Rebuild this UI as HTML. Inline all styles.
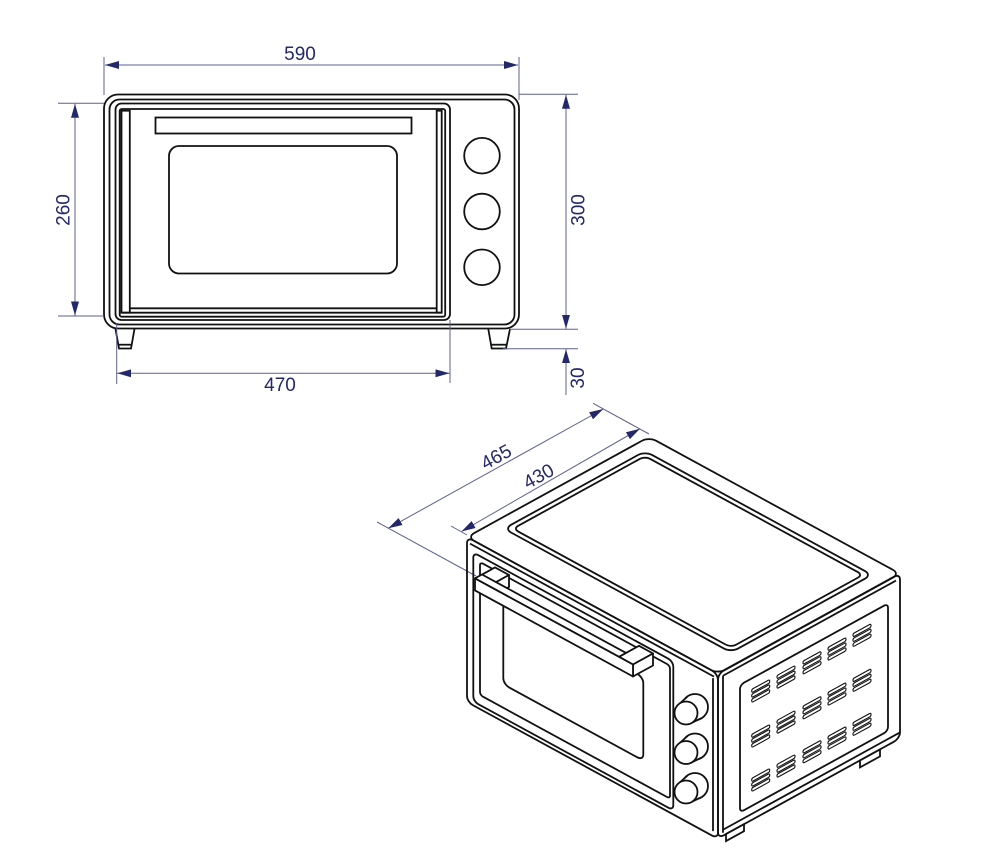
<!DOCTYPE html>
<html><head><meta charset="utf-8"><style>
html,body{margin:0;padding:0;background:#fff;}
svg{display:block;}
text{font-family:"Liberation Sans",Arial,sans-serif;font-size:19px;fill:#23286b;}
.t *{vector-effect:non-scaling-stroke;}
</style></head><body>
<svg width="991" height="861" viewBox="0 0 991 861" xmlns="http://www.w3.org/2000/svg">
<defs>
<marker id="ar" viewBox="0 0 14 8" refX="14" refY="4" markerWidth="14" markerHeight="8" markerUnits="userSpaceOnUse" orient="auto-start-reverse">
<path d="M0,0 L14,4 L0,8 z" fill="#23286b"/>
</marker>
<g id="vent">
<rect x="0" y="-6.6" width="18" height="3.4" rx="1.4" vector-effect="non-scaling-stroke"/>
<rect x="0" y="-1.7" width="18" height="3.4" rx="1.4" vector-effect="non-scaling-stroke"/>
<rect x="0" y="3.2" width="18" height="3.4" rx="1.4" vector-effect="non-scaling-stroke"/>
</g>
</defs>

<!-- ================= FRONT VIEW ================= -->
<g fill="none" stroke="#111" stroke-width="1.8">
<rect x="104" y="94.5" width="415" height="234" rx="14"/>
<rect x="109.5" y="99.5" width="405" height="225" rx="10"/>
<rect x="115.5" y="103.5" width="334.5" height="216.5" rx="6"/>
<rect x="119.7" y="109" width="325.5" height="207.7" rx="2"/>
<rect x="121.5" y="110.7" width="8.3" height="202"/>
<rect x="436.7" y="110.7" width="5" height="202"/>
<line x1="129.8" y1="308.3" x2="436.7" y2="308.3"/>
<line x1="121.5" y1="312.7" x2="441.7" y2="312.7"/>
<rect x="155.5" y="117.5" width="256" height="16"/>
<rect x="169" y="146" width="228" height="127.5" rx="10"/>
<circle cx="482" cy="155.7" r="17.8"/>
<circle cx="482" cy="211.5" r="17.8"/>
<circle cx="482" cy="267.3" r="17.8"/>
<path d="M115.5,329 L119,348.5 L131,348.5 L134.5,329"/>
<line x1="118.3" y1="344.7" x2="131.7" y2="344.7"/>
<path d="M488.3,329 L491.7,348.5 L506,348.5 L510,329"/>
<line x1="491" y1="344.7" x2="507" y2="344.7"/>
</g>

<!-- front view dimensions -->
<g stroke="#5c6190" stroke-width="1" fill="none">
<line x1="104" y1="57" x2="104" y2="95"/>
<line x1="519" y1="57" x2="519" y2="100"/>
<line x1="105" y1="65" x2="518" y2="65" marker-start="url(#ar)" marker-end="url(#ar)"/>

<line x1="58" y1="103.3" x2="104" y2="103.3"/>
<line x1="58" y1="316" x2="104" y2="316"/>
<line x1="75" y1="103.8" x2="75" y2="315.5" marker-start="url(#ar)" marker-end="url(#ar)"/>

<line x1="519" y1="94.3" x2="578" y2="94.3"/>
<line x1="510" y1="329.3" x2="578" y2="329.3"/>
<line x1="503" y1="348.7" x2="578" y2="348.7"/>
<line x1="566" y1="94.8" x2="566" y2="328.8" marker-start="url(#ar)" marker-end="url(#ar)"/>
<line x1="566" y1="349.2" x2="566" y2="395" marker-start="url(#ar)"/>

<line x1="116.7" y1="323" x2="116.7" y2="384"/>
<line x1="450" y1="320" x2="450" y2="383"/>
<line x1="117.2" y1="373.3" x2="449.5" y2="373.3" marker-start="url(#ar)" marker-end="url(#ar)"/>
</g>
<text x="300" y="60" text-anchor="middle">590</text>
<text x="280" y="391" text-anchor="middle">470</text>
<text transform="translate(69.5,210) rotate(-90)" text-anchor="middle">260</text>
<text transform="translate(584.5,210) rotate(-90)" text-anchor="middle">300</text>
<text transform="translate(584,378) rotate(-90)" text-anchor="middle">30</text>

<!-- ================= ISOMETRIC VIEW ================= -->
<!-- dimensions -->
<g stroke="#5c6190" stroke-width="1" fill="none">
<line x1="377" y1="522" x2="476" y2="576"/>
<line x1="451" y1="526" x2="467" y2="535"/>
<line x1="593" y1="403.3" x2="649" y2="434"/>
<line x1="388.3" y1="528.3" x2="603.3" y2="409" marker-start="url(#ar)" marker-end="url(#ar)"/>
<line x1="461.5" y1="531.5" x2="640" y2="428.7" marker-start="url(#ar)" marker-end="url(#ar)"/>
</g>
<text transform="translate(496,456.5) rotate(-28.8)" text-anchor="middle" y="6.8">465</text>
<text transform="translate(538.3,475.8) rotate(-28.8)" text-anchor="middle" y="6.8">430</text>

<g fill="none" stroke="#111" stroke-width="1.8">
<!-- top face -->
<g class="t" transform="matrix(1 0.545 1 -0.55 467 537)">
<rect x="0" y="0" width="251" height="182" rx="7"/>
<rect x="11" y="26" width="227" height="141" rx="7"/>
<rect x="15.5" y="30.5" width="218" height="132" rx="5"/>
</g>

<!-- side face -->
<g class="t" transform="matrix(1 -0.55 0 1 718 673.5)">
<rect x="0" y="0" width="182" height="165" rx="6"/>
<line x1="5" y1="5" x2="178" y2="5"/>
<line x1="5" y1="5" x2="5" y2="162"/>
<line x1="5" y1="159" x2="182" y2="159"/>
<rect x="22" y="23.5" width="148" height="127.5" rx="4"/>
<rect x="8" y="165" width="18" height="7" fill="#fff"/>
<rect x="142" y="165" width="20" height="7" fill="#fff"/>
<g stroke-width="1.1">
<use href="#vent" x="33.7" y="41"/><use href="#vent" x="59" y="41"/><use href="#vent" x="85" y="41"/><use href="#vent" x="110" y="41"/><use href="#vent" x="135" y="41"/>
<use href="#vent" x="33.7" y="86"/><use href="#vent" x="59" y="86"/><use href="#vent" x="85" y="86"/><use href="#vent" x="110" y="86"/><use href="#vent" x="135" y="86"/>
<use href="#vent" x="33.7" y="130"/><use href="#vent" x="59" y="130"/><use href="#vent" x="85" y="130"/><use href="#vent" x="110" y="130"/><use href="#vent" x="135" y="130"/>
</g>
</g>

<!-- front face -->
<g class="t" transform="matrix(1 0.545 0 1 467 537)">
<rect x="0" y="0" width="251" height="165" rx="6"/>
<line x1="3" y1="5" x2="247" y2="5"/>
<line x1="246" y1="7" x2="246" y2="160"/>
<rect x="6.3" y="12" width="200" height="149" rx="5"/>
<rect x="13" y="18" width="190" height="133" rx="3"/>
<rect x="36.3" y="44" width="140" height="83.5" rx="6"/>
</g>

<!-- handle -->
<g fill="#fff" stroke-linejoin="round">
<polygon points="475,578.4 489,586 509,575 495,567.4"/>
<polygon points="489,586 509,575 509,587 489,598"/>
<polygon points="619,656.8 633,664.5 653,653.5 639,645.8"/>
<polygon points="633,664.5 653,653.5 653,665.5 633,676.5"/>
<polygon points="475,578.4 619,656.8 626,652.9 482,574.5"/>
<polygon points="475,578.4 633,664.5 633,676.5 475,590.4"/>
</g>

<!-- knobs -->
<g>
<circle cx="695" cy="707" r="13" fill="#fff"/>
<polygon points="687.9,696.2 702.2,717.8 692.3,722.5 679.7,703.5" fill="#fff" stroke="none"/>
<line x1="687.9" y1="696.2" x2="679.7" y2="703.5"/>
<line x1="702.2" y1="717.8" x2="692.3" y2="722.5"/>
<circle cx="686" cy="713" r="11.5" fill="#fff"/>
</g>
<g transform="translate(0,39.5)">
<circle cx="695" cy="707" r="13" fill="#fff"/>
<polygon points="687.9,696.2 702.2,717.8 692.3,722.5 679.7,703.5" fill="#fff" stroke="none"/>
<line x1="687.9" y1="696.2" x2="679.7" y2="703.5"/>
<line x1="702.2" y1="717.8" x2="692.3" y2="722.5"/>
<circle cx="686" cy="713" r="11.5" fill="#fff"/>
</g>
<g transform="translate(0,79)">
<circle cx="695" cy="707" r="13" fill="#fff"/>
<polygon points="687.9,696.2 702.2,717.8 692.3,722.5 679.7,703.5" fill="#fff" stroke="none"/>
<line x1="687.9" y1="696.2" x2="679.7" y2="703.5"/>
<line x1="702.2" y1="717.8" x2="692.3" y2="722.5"/>
<circle cx="686" cy="713" r="11.5" fill="#fff"/>
</g>
</g>
</svg>
</body></html>
